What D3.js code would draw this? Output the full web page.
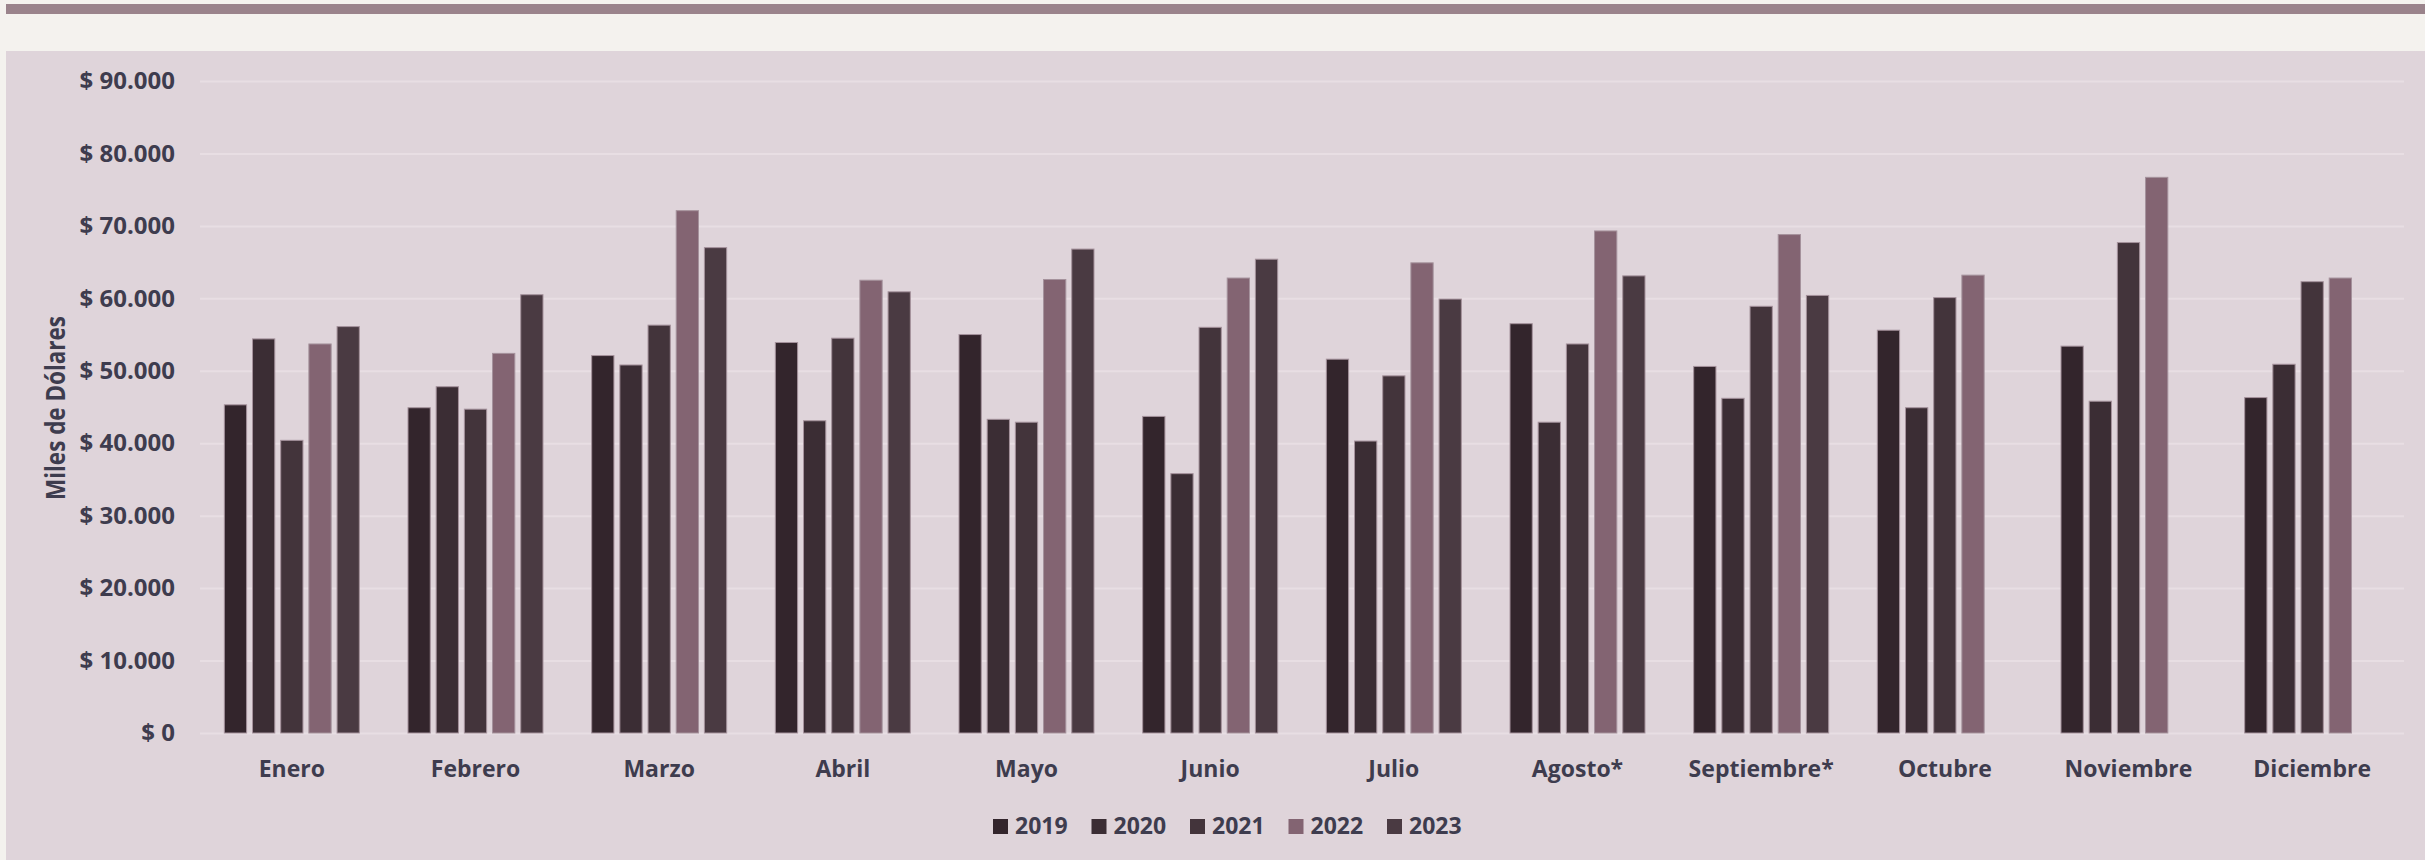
<!DOCTYPE html>
<html>
<head>
<meta charset="utf-8">
<script src="https://cdnjs.cloudflare.com/ajax/libs/d3/7.8.5/d3.min.js"></script>
<style>
  html, body { margin: 0; padding: 0; background: #f4f2ee; }
  svg { display: block; }
  .tick-label { font-family: "Open Sans", sans-serif; font-weight: 700; fill: #3e3c4e; }
</style>
</head>
<body>
<svg class="chart" width="2425" height="860"></svg>
<script>
// months on the x axis
let months = ["Enero", "Febrero", "Marzo", "Abril", "Mayo", "Junio", "Julio",
  "Agosto*", "Septiembre*", "Octubre", "Noviembre", "Diciembre"];
let years = ["2019", "2020", "2021", "2022", "2023"];

// values in miles de dolares
let v2019 = [45300, 44900, 52100, 53900, 55000, 43700, 51600, 56500, 50600, 55600, 53400, 46300];
let v2020 = [54400, 47800, 50800, 43100, 43300, 35800, 40300, 42900, 46200, 44900, 45800, 50900];
let v2021 = [40400, 44700, 56300, 54500, 42900, 56000, 49300, 53700, 58900, 60100, 67700, 62300];
let v2022 = [53700, 52400, 72100, 62500, 62600, 62800, 64900, 69300, 68800, 63200, 76700, 62800];
let v2023 = [56100, 60500, 67000, 60900, 66800, 65400, 59900, 63100, 60400, null, null, null];

let yTicks = [0, 10000, 20000, 30000, 40000, 50000, 60000, 70000, 80000, 90000];

let series = [v2019, v2020, v2021, v2022, v2023];
let colors = ["#33252c", "#3b2d34", "#43343b", "#836472", "#4a3a42"];

let svg = d3.select(".chart");

// page furniture: top strip and chart panel
svg.append("rect")
  .attr("x", 6).attr("y", 4)
  .attr("width", 2419).attr("height", 10)
  .style("fill", "#9a838b");
svg.append("rect")
  .attr("x", 6).attr("y", 51)
  .attr("width", 2419).attr("height", 809)
  .style("fill", "#dfd4da");

let left = 200, right = 2404;

let y = d3.scaleLinear()
  .domain([0, 90000])
  .range([733, 81]);

let x0 = d3.scaleBand()
  .domain(months)
  .range([left, right])
  .paddingInner(0.265)
  .paddingOuter(0.1325);

let x1 = d3.scaleBand()
  .domain(years)
  .range([0, x0.bandwidth()])
  .paddingInner(0.21)
  .paddingOuter(0);

let fmt = function(d) {
  return "$ " + d3.format(",")(d).replace(/,/g, ".");
};

// gridlines + y labels
let yAxis = svg.append("g")
  .attr("transform", translate(left, 0))
  .call(d3.axisLeft(y).tickValues(yTicks).tickSize(-(right - left)).tickPadding(25).tickFormat(fmt));
yAxis.select(".domain").remove();
yAxis.selectAll(".tick line")
  .style("stroke", "#e8dee3")
  .style("stroke-width", 2);
yAxis.selectAll(".tick text")
  .attr("class", "tick-label")
  .style("font-size", "24px");

// y axis title
svg.append("text")
  .attr("transform", "translate(65,408) rotate(-90)")
  .attr("text-anchor", "middle")
  .attr("textLength", 184)
  .attr("lengthAdjust", "spacingAndGlyphs")
  .style("font-family", "'Open Sans', sans-serif")
  .style("font-weight", 700)
  .style("font-size", "26px")
  .style("fill", "#3e3c4e")
  .text("Miles de Dólares");

// bars
let rows = months.map(function(m, i) {
  return { month: m, values: years.map(function(yr, j) { return { year: yr, idx: j, v: series[j][i] }; }) };
});

let groups = svg.selectAll("g.month")
  .data(rows).enter()
  .append("g")
  .attr("class", "month")
  .attr("transform", function(d) { return translate(x0(d.month), 0); });

groups.selectAll("rect")
  .data(function(d) { return d.values.filter(function(e) { return e.v != null; }); })
  .enter().append("rect")
  .attr("x", function(d) { return x1(d.year); })
  .attr("y", function(d) { return y(d.v); })
  .attr("width", x1.bandwidth())
  .attr("height", function(d) { return y(0) - y(d.v); })
  .style("fill", function(d) { return colors[d.idx]; })
  .style("stroke", "#a5929c")
  .style("stroke-width", 1);

// x labels
let xAxis = svg.append("g")
  .attr("transform", translate(0, 733))
  .call(d3.axisBottom(x0).tickSize(0).tickPadding(28));
xAxis.select(".domain").remove();
xAxis.selectAll(".tick text")
  .attr("class", "tick-label")
  .style("font-size", "23px");

// legend
let legend = svg.append("g")
  .attr("transform", translate(993, 826));
let item = legend.selectAll("g")
  .data(years).enter()
  .append("g")
  .attr("transform", function(d, i) { return translate(i * 98.5, 0); });
item.append("rect")
  .attr("x", 0).attr("y", -7)
  .attr("width", 15).attr("height", 15)
  .style("fill", function(d, i) { return colors[i]; });
item.append("text")
  .attr("class", "tick-label")
  .attr("x", 22)
  .attr("dy", "0.35em")
  .style("font-size", "23px")
  .text(function(d) { return d; });

function translate(x, y) {
  return "translate(" + x + "," + y + ")";
}
</script>
</body>
</html>
